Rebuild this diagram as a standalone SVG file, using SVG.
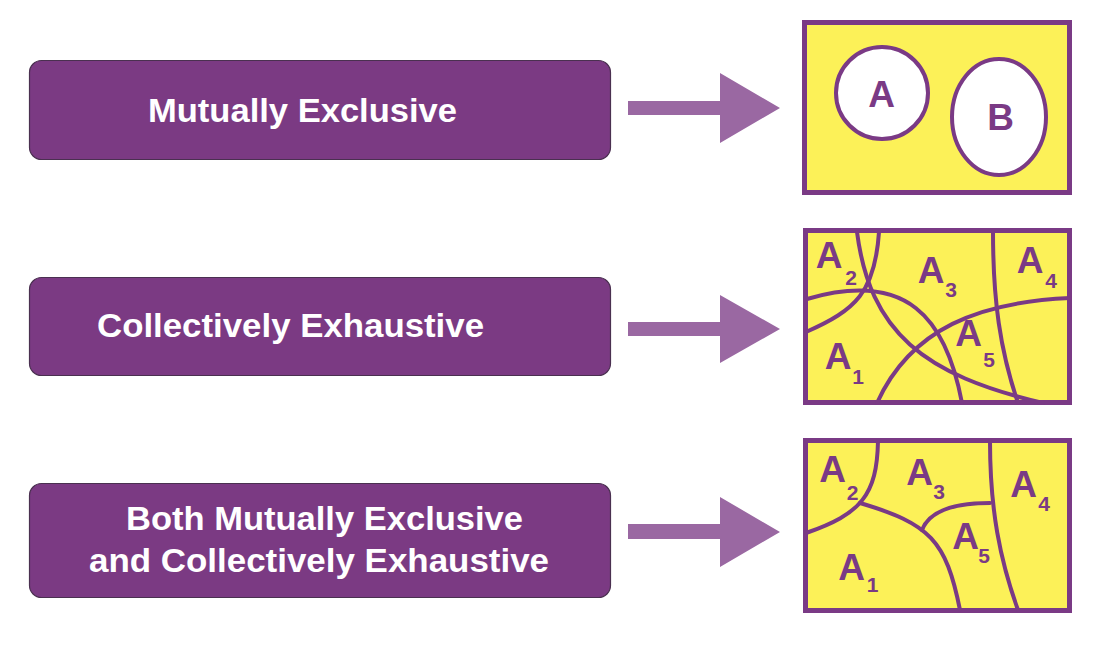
<svg xmlns="http://www.w3.org/2000/svg" width="1096" height="646" viewBox="0 0 1096 646">
<style>
.lbox{fill:#7b3a83;stroke:#4a3050;stroke-width:1.2}
.lt{font-family:"Liberation Sans",Arial,sans-serif;font-weight:bold;font-size:34px;fill:#ffffff}
.ybox{fill:#fcf158;stroke:#7a3a85;stroke-width:5}
.cv{fill:none;stroke:#7a3a85;stroke-width:4;stroke-linecap:round}
.big{font-family:"Liberation Sans",Arial,sans-serif;font-weight:bold;font-size:37px;fill:#7a3a85;text-anchor:middle}
.sub{font-family:"Liberation Sans",Arial,sans-serif;font-weight:bold;font-size:21px;fill:#7a3a85;text-anchor:middle}
.arr{fill:#9a68a2}
</style>
<rect width="1096" height="646" fill="#ffffff"/>

<g id="label-mutually-exclusive">
<rect class="lbox" x="29.5" y="60.5" width="581" height="99" rx="12"/>
<text class="lt" x="148" y="122" textLength="309" lengthAdjust="spacingAndGlyphs">Mutually Exclusive</text>
</g>
<g id="label-collectively-exhaustive">
<rect class="lbox" x="29.5" y="277.5" width="581" height="98" rx="12"/>
<text class="lt" x="97" y="337" textLength="387" lengthAdjust="spacingAndGlyphs">Collectively Exhaustive</text>
</g>
<g id="label-both">
<rect class="lbox" x="29.5" y="483.5" width="581" height="114" rx="12"/>
<text class="lt" x="126" y="530" textLength="397" lengthAdjust="spacingAndGlyphs">Both Mutually Exclusive</text>
<text class="lt" x="89" y="572" textLength="460" lengthAdjust="spacingAndGlyphs">and Collectively Exhaustive</text>
</g>

<g id="connectors">
<polygon class="arr" points="628,101 720,101 720,73 780,108 720,143 720,115 628,115"/>
<polygon class="arr" points="628,322 720,322 720,295 780,329 720,363 720,336 628,336"/>
<polygon class="arr" points="628,524 720,524 720,497 780,532 720,567 720,539 628,539"/>
</g>

<g id="venn-mutually-exclusive">
<rect class="ybox" x="804.5" y="22.5" width="265" height="170"/>
<circle cx="882" cy="93" r="46" fill="#ffffff" stroke="#7a3a85" stroke-width="4"/>
<ellipse cx="999" cy="117" rx="47" ry="58" fill="#ffffff" stroke="#7a3a85" stroke-width="4"/>
<text class="big" x="881.5" y="107">A</text>
<text class="big" x="1000.5" y="130">B</text>
</g>

<g id="venn-collectively-exhaustive">
<rect class="ybox" x="805.5" y="230.5" width="264" height="172"/>
<path class="cv" d="M857,232 C870,332 923,375 1043,403"/>
<path class="cv" d="M879,232 C875,292 856,310 806,332"/>
<path class="cv" d="M807,299 C907,270 946,318 962,403"/>
<path class="cv" d="M877,403 C911,328 980,302 1070,298"/>
<path class="cv" d="M993,232 C993,300 1000,350 1018,403"/>
<text class="big" x="829" y="268">A</text><text class="sub" x="851" y="285">2</text>
<text class="big" x="931" y="283">A</text><text class="sub" x="951" y="297">3</text>
<text class="big" x="1030" y="273">A</text><text class="sub" x="1051" y="288">4</text>
<text class="big" x="838" y="369">A</text><text class="sub" x="858" y="384">1</text>
<text class="big" x="968.5" y="346">A</text><text class="sub" x="989" y="367">5</text>
</g>

<g id="venn-both">
<rect class="ybox" x="805.5" y="440.5" width="264" height="170"/>
<path class="cv" d="M878,441 C877,495 861,514 806,533"/>
<path class="cv" d="M860,503 C930,524 946,540 960,610"/>
<path class="cv" d="M922,530 C929,512 950,503 990,503"/>
<path class="cv" d="M990,441 C990,510 1000,560 1018,610"/>
<text class="big" x="832.5" y="482">A</text><text class="sub" x="852.5" y="500">2</text>
<text class="big" x="919.5" y="485">A</text><text class="sub" x="939" y="499">3</text>
<text class="big" x="1023.5" y="497">A</text><text class="sub" x="1044" y="511">4</text>
<text class="big" x="965.5" y="549">A</text><text class="sub" x="984" y="563">5</text>
<text class="big" x="851.5" y="580">A</text><text class="sub" x="872.5" y="592">1</text>
</g>
</svg>
